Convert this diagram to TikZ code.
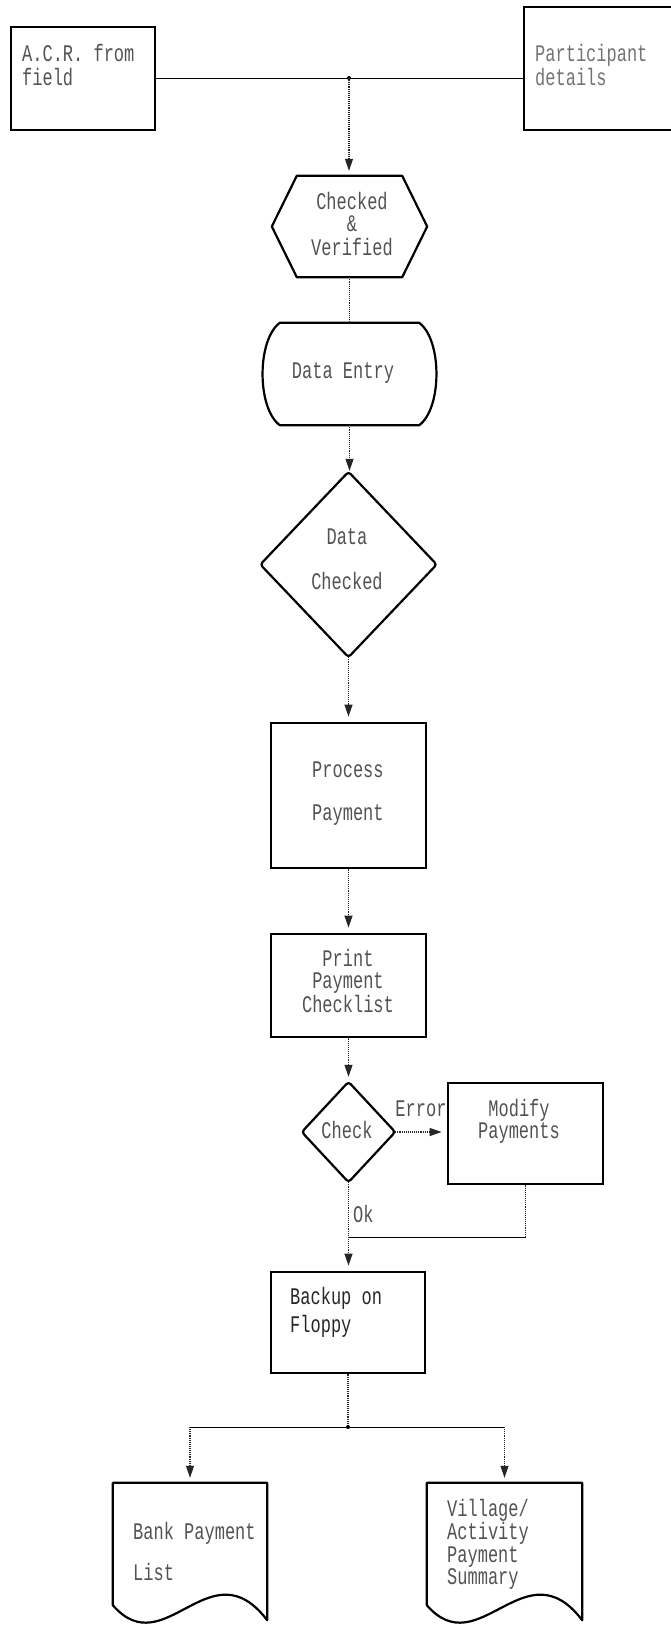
\documentclass[tikz,border=0pt]{standalone}
\usepackage{fontspec}
\setmonofont{Liberation Mono}
\usepackage{graphicx}
\usetikzlibrary{arrows.meta}

% tall, narrow dot-matrix style lettering
\newcommand\txtl[1]{\scalebox{1}[1.4]{\begin{tabular}{@{}l@{}}#1\end{tabular}}}
\newcommand\txtc[1]{\scalebox{1}[1.4]{\begin{tabular}{@{}c@{}}#1\end{tabular}}}

\begin{document}
\begin{tikzpicture}[x=1pt,y=-1pt,
  frame/.style={draw=black, line width=2.8pt, inner sep=0pt},
  ghost/.style={inner sep=0pt},
  outline/.style={draw=black, line width=2.2pt, line join=round},
  lbl/.style={inner sep=0pt, text=black!68,
    font=\fontsize{17}{15.4}\selectfont\ttfamily},
  joint/.style={draw=black, line width=0.9pt},
  dotline/.style={draw=black!85, line width=1.1pt, densely dotted},
  flow/.style={dotline, -{Triangle[width=8pt,length=12pt]}, shorten >=5pt},
]
\useasboundingbox (0,0) rectangle (670,1626);

% ---------- sources ----------
\node[frame, minimum width=144pt, minimum height=103pt] (acr) at (83,78.5) {};
\node[frame, minimum width=152pt, minimum height=123pt] (part) at (600,68.5) {};
\node[lbl, anchor=west] (acrT) at (22,68) {\txtl{A.C.R. from\\field}};
\node[lbl, anchor=west, text=black!55] (partT) at (535,68) {\txtl{Participant\\details}};

\coordinate (j1) at (349,78);
\draw[joint] (acr.east |- j1) -- (part.west |- j1);
\fill (j1) circle (2pt);

% ---------- checked & verified (hexagon) ----------
\node[ghost, minimum width=155pt, minimum height=101pt] (hex) at (349.5,226.5) {};
\draw[outline] (hex.west) -- ([xshift=25pt]hex.north west) -- ([xshift=-25pt]hex.north east)
  -- (hex.east) -- ([xshift=-25pt]hex.south east) -- ([xshift=25pt]hex.south west) -- cycle;
\node[lbl] (hexT) at (352,227) {\txtc{Checked\\\&\\Verified}};
\draw[flow] (j1) -- (j1 |- hex.north);

% ---------- data entry ----------
\node[ghost, minimum width=175pt, minimum height=102pt] (entry) at (349.5,374) {};
\draw[outline] ([xshift=18pt]entry.north west) -- ([xshift=-18pt]entry.north east)
  .. controls +(23,17) and +(23,-17) .. ([xshift=-18pt]entry.south east)
  -- ([xshift=18pt]entry.south west)
  .. controls +(-23,-17) and +(-23,17) .. ([xshift=18pt]entry.north west) -- cycle;
\node[lbl] (entryT) at (343,374) {\txtc{Data Entry}};
\draw[dotline] (hex.south) -- (entry.north);

% ---------- data checked (decision) ----------
\node[ghost, minimum width=176pt, minimum height=185pt] (dchk) at (348.5,564.5) {};
\draw[outline, rounded corners=3pt] (dchk.north) -- (dchk.east) -- (dchk.south) -- (dchk.west) -- cycle;
\node[lbl] (dchkT) at (347,562) {\txtc{Data\\[15pt]Checked}};
\draw[flow, shorten >=1pt] (entry.south) -- (entry.south |- dchk.north);

% ---------- process payment ----------
\node[frame, minimum width=155pt, minimum height=145pt] (proc) at (348.5,795.5) {};
\node[lbl, anchor=west] (procT) at (312,794.5) {\txtl{Process\\[15pt]Payment}};
\draw[flow] (dchk.south) -- (proc.north);

% ---------- print payment checklist ----------
\node[frame, minimum width=155pt, minimum height=103pt] (print) at (348.5,985.5) {};
\node[lbl] (printT) at (348,984) {\txtc{Print\\Payment\\Checklist}};
\draw[flow] (proc.south) -- (print.north);

% ---------- check / modify loop ----------
\node[ghost, minimum width=93pt, minimum height=100pt] (chk) at (348.5,1132) {};
\draw[outline, rounded corners=3pt] (chk.north) -- (chk.east) -- (chk.south) -- (chk.west) -- cycle;
\node[lbl] (chkT) at (347,1133) {\txtc{Check}};
\draw[flow] (print.south) -- (chk.north);

\node[frame, minimum width=155pt, minimum height=101pt] (mod) at (525.5,1133.5) {};
\node[lbl] (modT) at (519,1122) {\txtc{Modify\\Payments}};
\draw[flow] (chk.east) -- (mod.west |- chk.east);
\node[lbl] (errT) at (421,1112) {\txtc{Error}};

\coordinate (m) at (348.5,1237);
\draw[dotline] (mod.south) -- (mod.south |- m);
\draw[joint] (mod.south |- m) -- (m);

% ---------- backup ----------
\node[frame, minimum width=154pt, minimum height=101pt] (backup) at (348,1322.5) {};
\node[lbl, anchor=west, text=black!85] (backT) at (290,1313) {\txtl{Backup on\\[2.5pt]Floppy}};
\draw[flow] (chk.south) -- (chk.south |- backup.north);
\node[lbl, anchor=west] (okT) at (353,1217) {\txtl{Ok}};

% ---------- reports ----------
\node[ghost, minimum width=154pt, minimum height=142pt] (bank) at (190,1554) {};
\node[ghost, minimum width=155pt, minimum height=142pt] (vsum) at (504.5,1554) {};
\foreach \d in {bank,vsum}{
  \draw[outline] (\d.north east) -- (\d.north west) -- ([yshift=20pt]\d.south west)
    .. controls +(52,60) and +(-57,-75) .. ([yshift=5pt]\d.south east) -- cycle;
}
\node[lbl, anchor=west] (bankT) at (133,1554.5) {\txtl{Bank Payment\\[12.5pt]List}};
\node[lbl, anchor=west] (vsumT) at (447,1545) {\txtl{Village/\\Activity\\Payment\\Summary}};

\coordinate (j2) at (348,1427);
\draw[dotline] (backup.south) -- (j2);
\draw[joint] (bank.north |- j2) -- (vsum.north |- j2);
\fill (j2) circle (2pt);
\draw[flow] (bank.north |- j2) -- (bank.north);
\draw[flow] (vsum.north |- j2) -- (vsum.north);
\end{tikzpicture}
\end{document}
